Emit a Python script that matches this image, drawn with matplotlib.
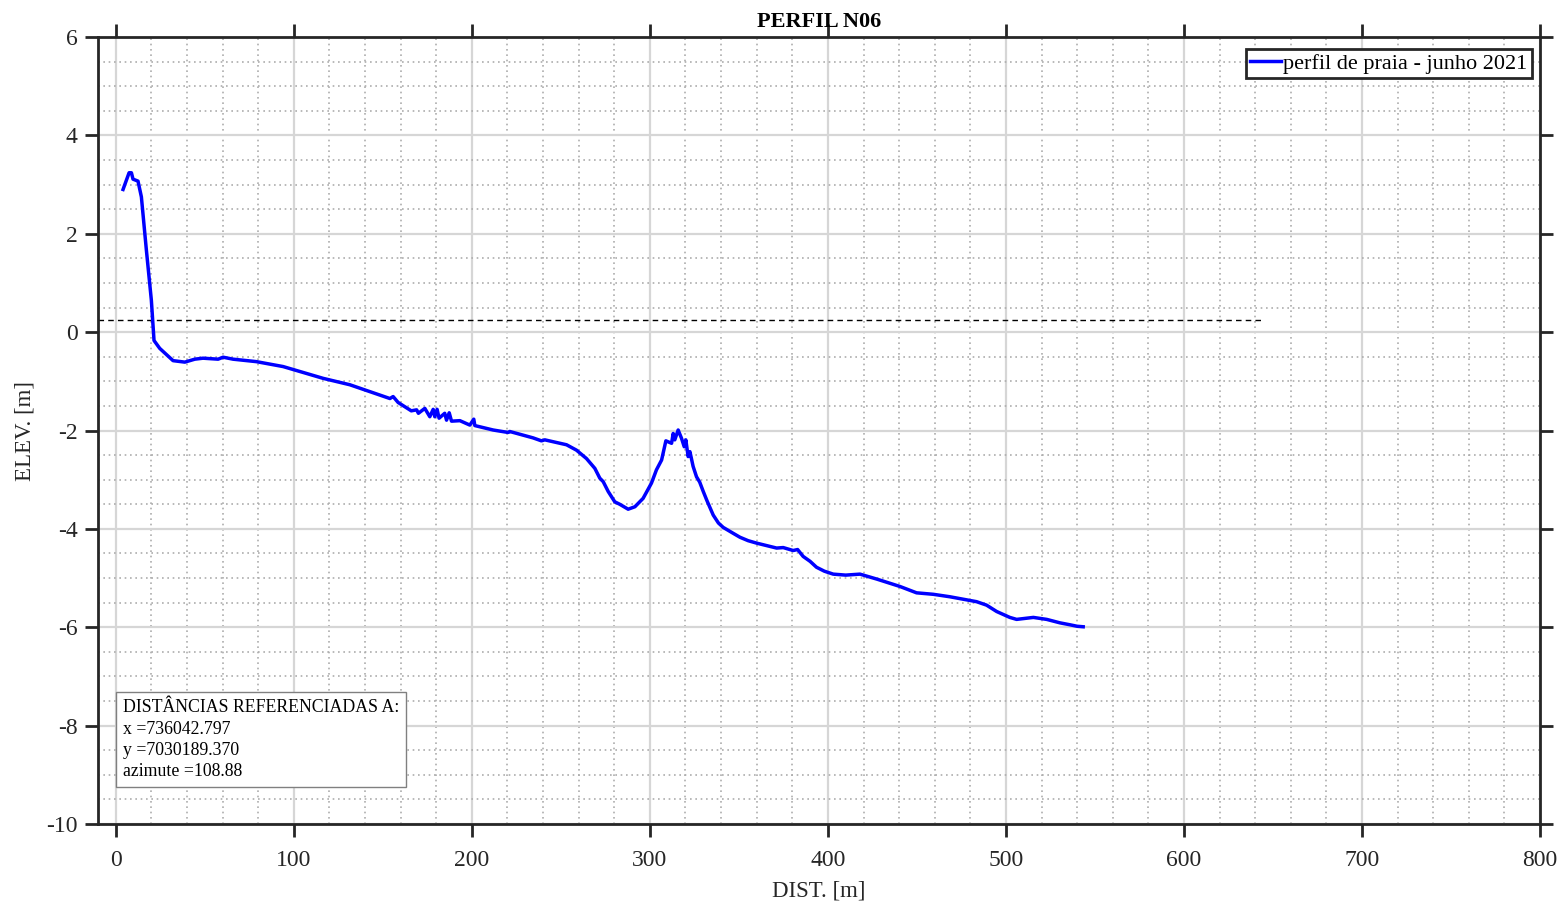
import matplotlib
matplotlib.use("Agg")
import matplotlib.pyplot as plt
from matplotlib.ticker import MultipleLocator

plt.rcParams['font.family'] = ['Liberation Serif', 'DejaVu Serif']
plt.rcParams['axes.unicode_minus'] = False

# Profile data (distance [m], elevation [m])
dist = [4.1, 7.5, 8.8, 9.7, 12.5, 14.4, 17.2, 20.0, 21.5, 24.7, 32.2, 38.8, 44.4, 49.0,
        57.5, 60.3, 65.9, 79.0, 94.0, 116.5, 131.5, 154.0, 155.8, 158.6, 166.0, 169.0,
        170.0, 173.6, 176.4, 178.3, 179.2, 180.5, 181.6, 184.8, 185.8, 187.3, 188.6,
        193.3, 198.9, 201.1, 201.7, 212.0, 220.4, 221.3, 234.4, 239.1, 241.0, 253.2,
        258.8, 264.4, 269.1, 271.9, 273.8, 276.6, 280.3, 283.1, 287.8, 291.6, 296.2,
        300.9, 303.7, 306.6, 309.0, 312.2, 313.1, 314.0, 315.9, 317.8, 319.3, 320.2,
        321.5, 322.5, 324.3, 326.2, 328.0, 330.0, 332.0, 335.6, 338.5, 341.2, 346.8,
        350.6, 355.2, 360.0, 371.2, 374.9, 380.5, 383.0, 386.1, 390.0, 393.6, 398.0,
        403.0, 410.0, 418.0, 427.4, 440.4, 449.8, 459.2, 468.5, 483.5, 489.1, 494.8,
        502.2, 506.0, 515.4, 522.9, 530.3, 536.0, 540.0, 543.4]
elev = [2.90, 3.24, 3.24, 3.11, 3.07, 2.75, 1.67, 0.65, -0.17, -0.33, -0.58, -0.61, -0.55,
        -0.53, -0.55, -0.51, -0.55, -0.60, -0.70, -0.94, -1.07, -1.35, -1.31, -1.43,
        -1.60, -1.58, -1.65, -1.55, -1.72, -1.57, -1.72, -1.57, -1.75, -1.65, -1.79,
        -1.64, -1.81, -1.80, -1.89, -1.77, -1.90, -1.99, -2.04, -2.02, -2.15, -2.21,
        -2.19, -2.29, -2.40, -2.57, -2.77, -2.97, -3.04, -3.24, -3.45, -3.50, -3.60,
        -3.55, -3.38, -3.07, -2.80, -2.60, -2.21, -2.26, -2.06, -2.19, -1.99, -2.16,
        -2.33, -2.19, -2.53, -2.43, -2.73, -2.94, -3.05, -3.24, -3.42, -3.72, -3.88,
        -3.97, -4.09, -4.17, -4.24, -4.29, -4.39, -4.38, -4.44, -4.42, -4.56, -4.66,
        -4.78, -4.86, -4.92, -4.94, -4.92, -5.02, -5.17, -5.30, -5.33, -5.38, -5.48,
        -5.55, -5.68, -5.80, -5.84, -5.80, -5.84, -5.91, -5.95, -5.98, -5.99]

ref_level = 0.25
ref_x = [-10, 645]

x_ticks = [0, 100, 200, 300, 400, 500, 600, 700, 800]
y_ticks = [-10, -8, -6, -4, -2, 0, 2, 4, 6]

title = "PERFIL N06"
legend_label = "perfil de praia - junho 2021"
info_text = ("DISTÂNCIAS REFERENCIADAS A:\n"
             "x =736042.797\n"
             "y =7030189.370\n"
             "azimute =108.88")

dark = '#262626'

fig = plt.figure(figsize=(15.67, 9.09), dpi=100)
ax = fig.add_axes([0.0625, 0.0935, 0.9203, 0.8658])

ax.set_xlim(-10, 800)
ax.set_ylim(-10, 6)
ax.set_xticks(x_ticks)
ax.set_yticks(y_ticks)
ax.xaxis.set_minor_locator(MultipleLocator(20))
ax.yaxis.set_minor_locator(MultipleLocator(0.5))

ax.grid(which='major', color='#d6d6d6', linewidth=1.6, linestyle='-', zorder=0)
ax.grid(which='minor', color='#adadad', linewidth=1.2, linestyle=(0, (1, 2.2)), zorder=0)
ax.set_axisbelow(True)

ax.tick_params(which='major', direction='out', length=9.5, width=2, colors=dark,
               labelsize=17, top=True, right=True, labeltop=False, labelright=False, pad=5)
ax.tick_params(axis='x', which='major', pad=9)
ax.tick_params(which='minor', length=0)
for s in ax.spines.values():
    s.set_linewidth(2)
    s.set_color(dark)

ax.plot(ref_x, [ref_level, ref_level], color='black', linestyle=(0, (4, 3)), linewidth=1.0, zorder=2)
ax.plot(dist, elev, color='#0000ff', linewidth=2.5, label=legend_label, zorder=3)

ax.set_title(title, fontsize=16, fontweight='bold', color='black', pad=7)
ax.set_xlabel("DIST. [m]", fontsize=16.5, color=dark, labelpad=7)
ax.set_ylabel("ELEV. [m]", fontsize=16.5, color=dark, labelpad=8)

leg = ax.legend(loc='upper right', fontsize=16, frameon=True, fancybox=False,
                handlelength=1.4, handletextpad=0.1, borderpad=0.2,
                bbox_to_anchor=(0.9945, 0.985), borderaxespad=0)
leg.get_frame().set_edgecolor(dark)
leg.get_frame().set_linewidth(2)
leg.get_frame().set_facecolor('white')
leg.get_frame().set_alpha(1)

ax.text(0.0173, 0.056, info_text, transform=ax.transAxes, fontsize=12.8,
        color='black', ha='left', va='bottom', linespacing=1.32,
        bbox=dict(boxstyle='square,pad=0.4', facecolor='white', edgecolor='#808080', linewidth=1),
        zorder=5)

fig.savefig("out.png", dpi=100)
